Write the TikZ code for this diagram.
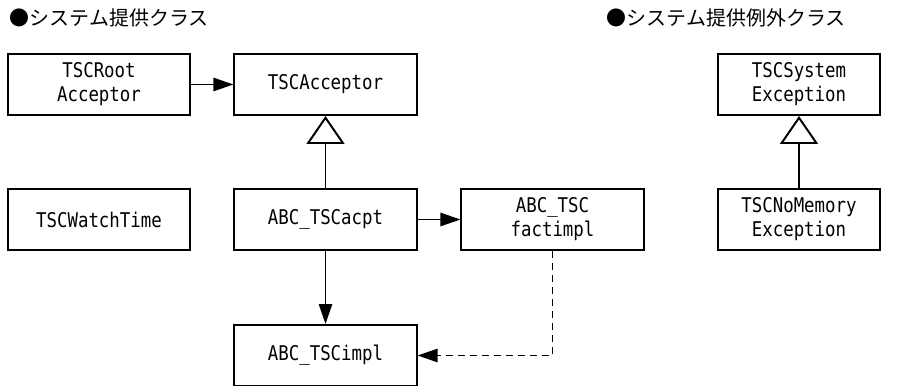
\documentclass[tikz,border=0pt]{standalone}
\usepackage{fontspec}
\setmonofont[FakeStretch=0.86]{DejaVu Sans Mono}
\newfontfamily\jpfont{Noto Sans CJK JP}
\usetikzlibrary{arrows.meta}
\tikzset{
every picture/.style={line width=1.4pt},
cls/.style={ % one class box
draw,
rectangle,
align=center,
minimum width=4.55cm,
minimum height=1.525cm,
inner sep=0pt,
font=\ttfamily\fontsize{14.4}{17}\selectfont},
narrow/.style={minimum width=4.05cm},
title/.style={anchor=west, inner sep=0pt, font=\jpfont\fontsize{14.2}{17}\selectfont},
uses/.style={-{Triangle[length=0.5cm,width=0.33cm]}}, % plain association
gen/.style={-{Triangle[open,length=0.7cm,width=0.95cm,fill=white]}}, % inheritance
dep/.style={uses, dash pattern=on 0.18cm off 0.12cm}}

\begin{document}
\begin{tikzpicture}[x=0.025cm, y=-0.025cm]
\useasboundingbox (0,0) rectangle (900,386);
\node[title] (t1) at (9,18) {●システム提供クラス};
\node[title] (t2) at (606,18) {●システム提供例外クラス};
\node[cls] (root) at (99,84.5) {TSCRoot\\Acceptor};
\node[cls] (acc) at (325.5,84.5) {TSCAcceptor};
\node[cls, narrow] (sysexc) at (799,84.5) {TSCSystem\\Exception};
\node[cls] (watch) at (99,219.5) {TSCWatchTime};
\node[cls] (acpt) at (325.5,219.5) {ABC\_TSCacpt};
\node[cls] (fact) at (552.5,219.5) {ABC\_TSC\\factimpl};
\node[cls, narrow] (nomem) at (799,219.5) {TSCNoMemory\\Exception};
\node[cls] (impl) at (325.5,355.5) {ABC\_TSCimpl};
\draw[uses] (root) -- (acc);
\draw[gen] (acpt) -- (acc);
\draw[gen] (nomem) -- (sysexc);
\draw[uses] (acpt) -- (fact);
\draw[uses] (acpt) -- (impl);
\draw[dep] (fact.south) |- (impl.east);
\end{tikzpicture}
\end{document}
